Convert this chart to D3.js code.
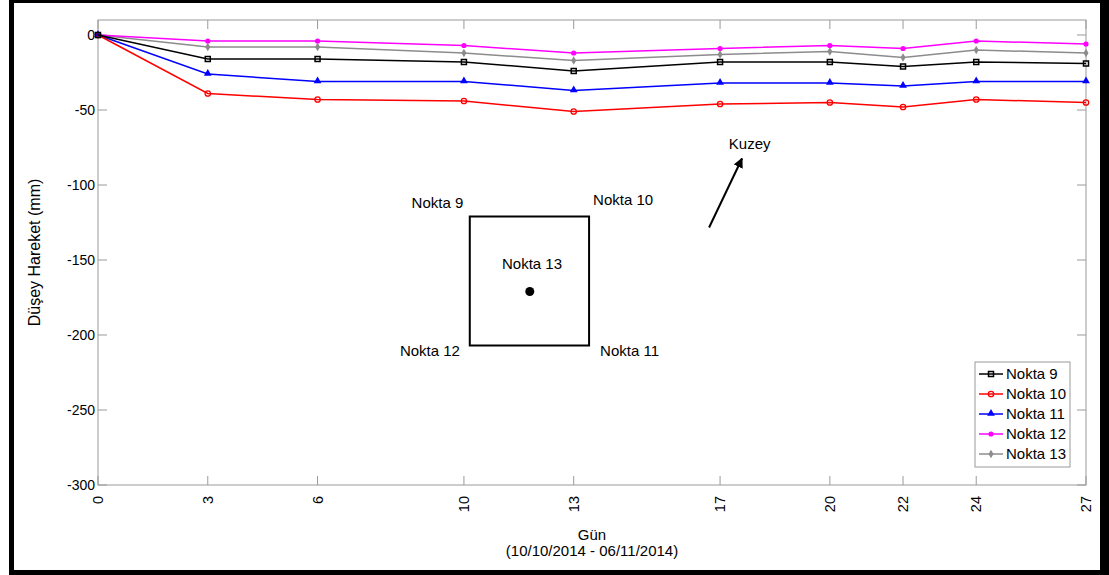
<!DOCTYPE html>
<html>
<head>
<meta charset="utf-8">
<script src="https://cdn.jsdelivr.net/npm/d3@7"></script>
<style>
  body { margin: 0; background: #fff; }
  text { font-family: "Liberation Sans", Arial, sans-serif; fill: #000; }
</style>
</head>
<body>
<script>
// days since 10/10/2014
var days = [0, 3, 6, 10, 13, 17, 20, 22, 24, 27];
var nokta9  = [0, -16, -16, -18, -24, -18, -18, -21, -18, -19];
var nokta10 = [0, -39, -43, -44, -51, -46, -45, -48, -43, -45];
var nokta11 = [0, -26, -31, -31, -37, -32, -32, -34, -31, -31];
var nokta12 = [0, -4, -4, -7, -12, -9, -7, -9, -4, -6];
var nokta13 = [0, -8, -8, -12, -17, -13, -11, -15, -10, -12];
var seriesNames = ["Nokta 9", "Nokta 10", "Nokta 11", "Nokta 12", "Nokta 13"];
var yTicks = [0, -50, -100, -150, -200, -250, -300];

var width = 1109, height = 575;
var plotLeft = 98, plotRight = 1086, plotTop = 20, plotBottom = 485;

var series = [
  {name: seriesNames[0], values: nokta9,  color: "#000000", marker: "square"},
  {name: seriesNames[1], values: nokta10, color: "#ff0000", marker: "circle"},
  {name: seriesNames[2], values: nokta11, color: "#0000ff", marker: "triangle"},
  {name: seriesNames[3], values: nokta12, color: "#ff00ff", marker: "dot"},
  {name: seriesNames[4], values: nokta13, color: "#8c8c8c", marker: "diamond"}
];

var x = d3.scaleLinear().domain([0, 27]).range([plotLeft, plotRight]);
var y = d3.scaleLinear().domain([-300, 10]).range([plotBottom, plotTop]);

var svg = d3.select("body").append("svg")
    .attr("width", width)
    .attr("height", height);

// frame
svg.append("rect").attr("x", 9).attr("y", 0).attr("width", 1100).attr("height", 575).attr("fill", "#000");
svg.append("rect").attr("x", 14).attr("y", 3).attr("width", 1086).attr("height", 567).attr("fill", "#fff");

// axes box
var axisColor = "#9a9a9a";
svg.append("rect")
    .attr("x", plotLeft).attr("y", plotTop)
    .attr("width", plotRight - plotLeft).attr("height", plotBottom - plotTop)
    .attr("fill", "none").attr("stroke", axisColor).attr("stroke-width", 1);

// ticks (inside, on all four sides)
var tl = 9;
var ticksG = svg.append("g").attr("stroke", axisColor).attr("stroke-width", 1);
days.forEach(function(d) {
  ticksG.append("line").attr("x1", x(d)).attr("x2", x(d)).attr("y1", plotBottom).attr("y2", plotBottom - tl);
  ticksG.append("line").attr("x1", x(d)).attr("x2", x(d)).attr("y1", plotTop).attr("y2", plotTop + tl);
});
yTicks.forEach(function(v) {
  ticksG.append("line").attr("x1", plotLeft).attr("x2", plotLeft + tl).attr("y1", y(v)).attr("y2", y(v));
  ticksG.append("line").attr("x1", plotRight).attr("x2", plotRight - tl).attr("y1", y(v)).attr("y2", y(v));
});

// tick labels
svg.selectAll("text.ytick")
    .data(yTicks)
    .enter()
    .append("text")
    .attr("class", "ytick")
    .attr("x", plotLeft - 3)
    .attr("y", function(d) { return y(d) + 5; })
    .attr("text-anchor", "end")
    .style("font-size", "14px")
    .text(function(d) { return d; });

svg.selectAll("text.xtick")
    .data(days)
    .enter()
    .append("text")
    .attr("class", "xtick")
    .attr("transform", function(d) { return "translate(" + (x(d) + 5) + "," + (plotBottom + 11) + ") rotate(-90)"; })
    .attr("text-anchor", "end")
    .style("font-size", "14.5px")
    .text(function(d) { return d; });

// axis titles
svg.append("text")
    .attr("x", (plotLeft + plotRight) / 2).attr("y", 540)
    .attr("text-anchor", "middle").style("font-size", "15px")
    .text("Gün");
svg.append("text")
    .attr("x", (plotLeft + plotRight) / 2).attr("y", 556)
    .attr("text-anchor", "middle").style("font-size", "15px")
    .text("(10/10/2014 - 06/11/2014)");
svg.append("text")
    .attr("transform", "translate(40," + ((plotTop + plotBottom) / 2) + ") rotate(-90)")
    .attr("text-anchor", "middle").style("font-size", "16px")
    .text("Düşey Hareket (mm)");

// markers
function drawMarker(g, type, color, cx, cy) {
  if (type === "square") {
    g.append("rect").attr("x", cx - 2.5).attr("y", cy - 2.5).attr("width", 5).attr("height", 5)
      .attr("fill", "none").attr("stroke", color).attr("stroke-width", 1.5);
  } else if (type === "circle") {
    g.append("circle").attr("cx", cx).attr("cy", cy).attr("r", 2.7)
      .attr("fill", "none").attr("stroke", color).attr("stroke-width", 1.3);
  } else if (type === "triangle") {
    g.append("path").attr("d", d3.symbol().type(d3.symbolTriangle).size(26)())
      .attr("transform", "translate(" + cx + "," + (cy - 0.5) + ")").attr("fill", color);
  } else if (type === "dot") {
    g.append("circle").attr("cx", cx).attr("cy", cy).attr("r", 2.6).attr("fill", color);
  } else if (type === "diamond") {
    g.append("path").attr("d", d3.symbol().type(d3.symbolDiamond).size(22)())
      .attr("transform", "translate(" + cx + "," + cy + ")").attr("fill", color);
  }
}

var line = d3.line()
    .x(function(d, i) { return x(days[i]); })
    .y(function(d) { return y(d); });

// draw in reverse so Nokta 9 sits on top
series.slice().reverse().forEach(function(s) {
  var g = svg.append("g");
  g.append("path")
      .attr("d", line(s.values))
      .attr("fill", "none")
      .attr("stroke", s.color)
      .attr("stroke-width", 1.5);
  s.values.forEach(function(v, i) {
    drawMarker(g, s.marker, s.color, x(days[i]), y(v));
  });
});

// site sketch annotation (data units)
var sq = {x0: 10.16, x1: 13.42, y0: -121, y1: -207};
svg.append("rect")
    .attr("x", x(sq.x0)).attr("y", y(sq.y0))
    .attr("width", x(sq.x1) - x(sq.x0)).attr("height", y(sq.y1) - y(sq.y0))
    .attr("fill", "none").attr("stroke", "#000").attr("stroke-width", 2);
svg.append("circle").attr("cx", x(11.8)).attr("cy", y(-171)).attr("r", 4.5).attr("fill", "#000");

var notes = [
  {t: "Nokta 9",  dx: 8.57,  dy: -115},
  {t: "Nokta 10", dx: 13.53, dy: -113},
  {t: "Nokta 13", dx: 11.04, dy: -156},
  {t: "Nokta 12", dx: 8.25,  dy: -214},
  {t: "Nokta 11", dx: 13.72, dy: -214},
  {t: "Kuzey",    dx: 17.24, dy: -76}
];
svg.selectAll("text.note")
    .data(notes)
    .enter()
    .append("text")
    .attr("class", "note")
    .attr("x", function(d) { return x(d.dx); })
    .attr("y", function(d) { return y(d.dy); })
    .style("font-size", "15px")
    .text(function(d) { return d.t; });

svg.append("defs").append("marker")
    .attr("id", "arrow").attr("viewBox", "0 0 10 10")
    .attr("refX", 9).attr("refY", 5)
    .attr("markerWidth", 5).attr("markerHeight", 5)
    .attr("orient", "auto")
    .append("path").attr("d", "M0,0 L10,5 L0,10 z").attr("fill", "#000");
svg.append("line")
    .attr("x1", x(16.7)).attr("y1", y(-128.3))
    .attr("x2", x(17.6)).attr("y2", y(-82.3))
    .attr("stroke", "#000").attr("stroke-width", 2)
    .attr("marker-end", "url(#arrow)");

// legend
var lg = svg.append("g").attr("transform", "translate(975,362)");
lg.append("rect").attr("width", 95).attr("height", 105)
    .attr("fill", "#fff").attr("stroke", axisColor).attr("stroke-width", 1);
series.forEach(function(s, i) {
  var yy = 12 + i * 20;
  lg.append("line").attr("x1", 4).attr("x2", 28).attr("y1", yy).attr("y2", yy)
    .attr("stroke", s.color).attr("stroke-width", 1.5);
  drawMarker(lg, s.marker, s.color, 16, yy);
  lg.append("text").attr("x", 31).attr("y", yy + 5).style("font-size", "15px").text(s.name);
});
</script>
</body>
</html>
